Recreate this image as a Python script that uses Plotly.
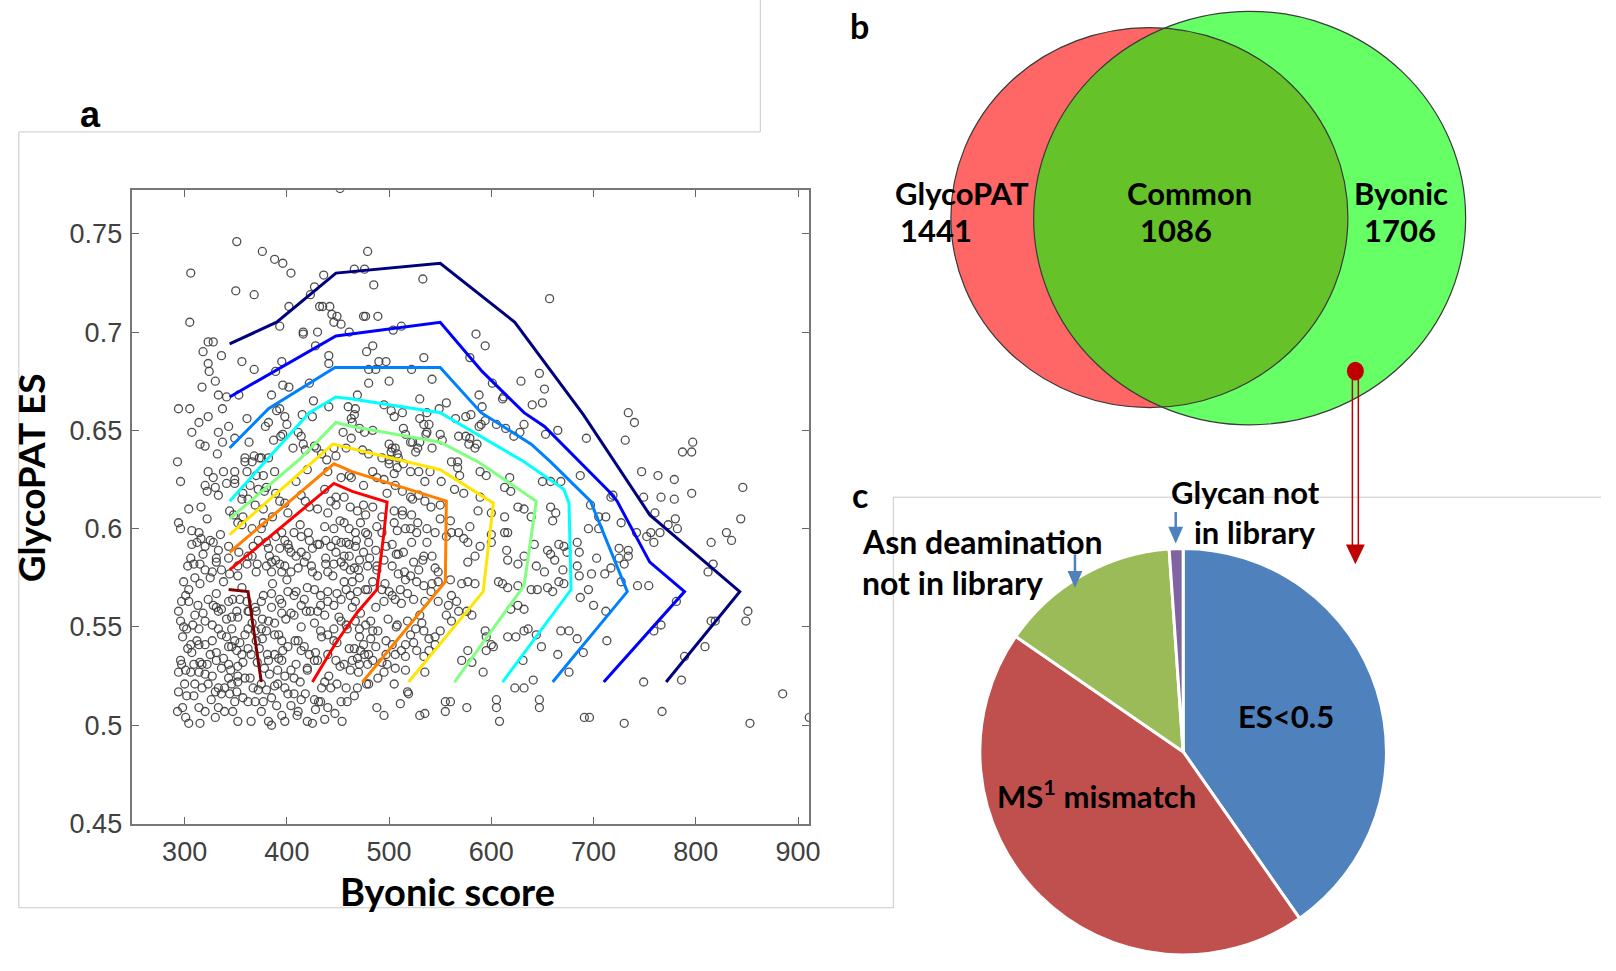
import plotly.graph_objects as go

# nominal canvas used to express layout positions as paper fractions
W, H = 1616, 971


def fx(px):
    return px / W


def fy(py):
    return 1 - py / H


# ---------------- panel a: Byonic score vs GlycoPAT ES ----------------
byonic_score = [
    # upper left
    452, 351, 376, 388, 396, 404, 306, 350, 368, 402,
    436, 427, 423, 432, 435, 442, 444, 449, 446, 453,
    461, 305, 393, 416, 416, 430, 428, 441, 441, 323,
    328, 318, 336, 323, 324, 356, 368, 395, 389, 330,
    317, 333, 341, 353, 396, 402, 422, 385, 294, 305,
    337, 323, 314, 307, 343, 333, 315, 320, 337, 349,
    361, 363, 332, 359, 368, 375, 382, 390, 393, 398,
    382, 379, 400, 396, 394, 387, 411, 414, 415, 425,
    426, 441, 460, 463, 455, 463, 406, 416, 418, 427,
    429, 446, 448, 458, 434, 439, 293,
    # upper middle
    479, 466, 476, 485, 533, 657, 475, 477, 489, 504,
    512, 585, 594, 478, 484, 490, 497, 534, 579, 480,
    487, 522, 500, 542, 480, 469, 629, 647, 652, 601,
    588, 612, 611, 530, 467, 466, 464, 495, 502, 505,
    513, 549, 556, 565, 575, 580, 591, 594, 588, 590,
    605, 614, 622, 628, 632, 640, 650, 653, 665, 530,
    537, 534, 539, 537, 536, 471, 476, 484, 514, 516,
    550, 552, 568, 575, 579, 578, 584, 586, 542, 500,
    503, 502, 506, 508, 509, 521, 523, 528, 530, 526,
    474, 480, 493, 500, 567,
    # upper right
    734, 740, 693, 731, 797, 796, 787,
    # lower left
    296, 323, 328, 338, 320, 330, 322, 349, 349, 361,
    370, 364, 372, 378, 388, 359, 366, 373, 356, 357,
    304, 377, 393, 398, 377, 375, 356, 357, 348, 414,
    422, 440, 453, 461, 443, 448, 440, 456, 462, 456,
    461, 294, 296, 314, 316, 325, 307, 320, 328, 333,
    331, 306, 309, 315, 320, 327, 299, 315, 325, 343,
    344, 352, 362, 367, 366, 380, 382, 383, 371, 370,
    380, 385, 385, 395, 398, 401, 393, 407, 414, 404,
    409, 414, 393, 398, 404, 422, 425, 430, 417, 424,
    425, 437, 438, 443, 438, 446, 453, 440, 445, 448,
    453, 458, 461, 456, 461, 456, 462, 466, 301, 304,
    310, 294, 323, 328, 331, 336, 343, 296, 299, 302,
    314, 320, 327, 333, 341, 346, 351, 354, 361, 362,
    370, 375, 385, 385, 393, 401, 407, 414, 419, 427,
    433, 440, 440, 446, 453, 458, 462, 464, 430, 437,
    395, 399, 404, 382, 388, 375, 362, 369, 359, 341,
    349, 346, 327, 320, 325, 306, 314, 307, 297, 294,
    301, 309, 315, 322, 314, 320, 331, 336, 343, 357,
    352, 359, 343, 346, 339, 310, 317, 323, 294, 302,
    330, 336, 351, 357, 349, 367, 375, 380, 369, 377,
    382, 388, 395, 378, 391, 398, 404, 407, 391, 398,
    401, 407, 388, 395, 401, 411, 414, 422, 427, 420,
    433, 440, 446, 453, 459, 440, 448, 456, 462, 437,
    443, 449, 458, 427, 433, 440, 293, 301, 304, 315,
    314, 320, 339, 333, 365, 375, 395, 398, 382, 385,
    404, 411, 420, 425, 414, 454, 453, 459, 351, 356,
    362, 365, 370, 373, 346, 466, 469,
    # lower middle
    500, 508, 514, 521, 529, 540, 535, 484, 488, 495,
    506, 513, 521, 529, 535, 550, 561, 567, 569, 564,
    573, 589, 595, 589, 587, 613, 619, 618, 626, 632,
    639, 650, 658, 668, 658, 663, 660, 613, 616, 613,
    600, 579, 469, 477, 484, 472, 467, 477, 488, 493,
    505, 513, 513, 522, 516, 521, 527, 537, 545, 550,
    560, 561, 568, 573, 577, 589, 584, 577, 600, 600,
    615, 616, 626, 632, 642, 644, 652, 655, 658, 662,
    666, 671, 674, 670, 671, 467, 475, 480, 487, 471,
    479, 488, 495, 503, 509, 514, 503, 509, 516, 521,
    524, 529, 534, 537, 542, 545, 548, 527, 534, 542,
    548, 464, 469, 477, 484, 493, 500, 506, 495, 511,
    518, 524, 535, 548, 558, 566, 561, 571, 577, 584,
    556, 561, 568, 576, 581, 607, 611, 616, 626, 619,
    626, 632, 639, 645, 655, 660, 666, 636, 644, 649,
    616, 624, 632, 594, 595, 600, 577, 571, 581, 592,
    668, 676, 665, 676, 631, 467, 471, 477, 482, 484,
    471, 475, 472, 480, 487, 464, 471, 479, 484, 497,
    503, 497, 508, 518, 526, 532, 534, 539, 545, 550,
    516, 524, 527, 539, 545, 506, 516, 534, 498, 506,
    516, 495, 505, 535, 469, 480, 518, 519, 488, 495,
    511, 530, 535, 555, 560, 555, 576, 605, 605, 608,
    623, 632, 641, 647, 647, 595, 602,
    # lower right
    747, 763, 779, 796, 846, 687, 717, 719, 749, 766,
    779, 697, 705, 712, 727, 760, 780, 773, 782, 844,
    695, 705, 742, 752, 759, 765, 756, 830, 835, 815,
    684, 686, 725, 734, 725, 734, 730, 703, 684, 686,
    698, 711, 717, 812, 817, 727, 743, 754, 687, 695,
    700, 712, 781, 851, 849, 815, 819, 766, 759, 684,
    690, 713, 809, 789, 749, 786, 885, 767, 691, 696,
    730, 853, 911,
    # dense core (overlapping circles, positions estimated)
    330, 352, 410, 437,
    298, 347, 390, 428, 447,
    309, 326, 344, 362, 385, 418, 431, 466,
    300, 333, 352, 372, 388, 413, 434, 478,
    306, 327, 345, 364, 383, 420, 441, 470, 489,
    296, 317, 338, 352, 371, 392, 409, 430, 452, 493,
    303, 331, 343, 381, 396, 417, 428, 461, 476, 512,
    298, 312, 336, 354, 376, 392, 408, 434, 449, 482, 521,
    308, 333, 366, 380, 414, 427, 446, 458, 489, 507,
    318, 352, 363, 376, 407, 423, 451, 472, 499, 530,
    297, 313, 347, 369, 395, 417, 433, 467, 487, 512,
    304, 331, 356, 377, 409, 420, 449, 479, 503, 541,
    310, 338, 352, 386, 400, 430, 456, 471, 496, 560,
    303, 336, 361, 395, 411, 438, 470, 488, 515,
    318, 331, 353, 389, 419, 448, 481, 507, 533,
    312, 343, 372, 402, 432, 468, 497, 522,
    307, 335, 366, 389, 421, 446, 479, 508, 556,
    322, 352, 386, 413, 452, 493, 528,
    316, 344, 369, 401, 430, 475, 505, 541,
    333, 362, 389, 418, 448, 498, 523,
    341, 380, 409, 437, 475, 551,
    349, 377, 420, 463, 505,
]

glycopat_es = [
    # upper left
    0.773, 0.746, 0.741, 0.737, 0.735, 0.730, 0.730, 0.721, 0.719, 0.713,
    0.729, 0.723, 0.719, 0.713, 0.713, 0.713, 0.709, 0.708, 0.705, 0.704,
    0.700, 0.705, 0.703, 0.700, 0.699, 0.700, 0.693, 0.688, 0.684, 0.695,
    0.695, 0.690, 0.688, 0.684, 0.680, 0.685, 0.681, 0.685, 0.680, 0.675,
    0.672, 0.668, 0.667, 0.668, 0.673, 0.672, 0.674, 0.668, 0.661, 0.661,
    0.661, 0.657, 0.654, 0.649, 0.652, 0.649, 0.643, 0.642, 0.644, 0.646,
    0.656, 0.644, 0.638, 0.636, 0.637, 0.636, 0.636, 0.660, 0.661, 0.657,
    0.654, 0.652, 0.653, 0.648, 0.647, 0.645, 0.649, 0.647, 0.658, 0.657,
    0.665, 0.662, 0.662, 0.656, 0.649, 0.646, 0.641, 0.643, 0.640, 0.642,
    0.641, 0.641, 0.637, 0.641, 0.638, 0.635, 0.634,
    # upper middle
    0.741, 0.732, 0.732, 0.724, 0.727, 0.717, 0.708, 0.708, 0.708, 0.701,
    0.703, 0.699, 0.693, 0.690, 0.693, 0.685, 0.685, 0.687, 0.687, 0.681,
    0.681, 0.681, 0.675, 0.676, 0.674, 0.668, 0.675, 0.679, 0.671, 0.674,
    0.668, 0.667, 0.666, 0.666, 0.661, 0.658, 0.654, 0.663, 0.660, 0.657,
    0.659, 0.661, 0.664, 0.656, 0.657, 0.658, 0.662, 0.655, 0.652, 0.653,
    0.653, 0.651, 0.647, 0.649, 0.653, 0.663, 0.664, 0.648, 0.650, 0.656,
    0.659, 0.653, 0.653, 0.649, 0.648, 0.651, 0.649, 0.650, 0.651, 0.648,
    0.648, 0.645, 0.647, 0.647, 0.646, 0.643, 0.641, 0.643, 0.641, 0.643,
    0.641, 0.639, 0.641, 0.638, 0.636, 0.644, 0.644, 0.641, 0.644, 0.639,
    0.640, 0.638, 0.636, 0.635, 0.634,
    # upper right
    0.659, 0.654, 0.646, 0.645, 0.644, 0.639, 0.639,
    # lower left
    0.624, 0.629, 0.626, 0.629, 0.622, 0.621, 0.619, 0.625, 0.623, 0.629,
    0.627, 0.622, 0.620, 0.619, 0.629, 0.634, 0.634, 0.636, 0.615, 0.618,
    0.610, 0.610, 0.614, 0.613, 0.603, 0.600, 0.602, 0.606, 0.607, 0.617,
    0.611, 0.629, 0.626, 0.627, 0.614, 0.612, 0.608, 0.616, 0.611, 0.603,
    0.600, 0.603, 0.600, 0.598, 0.595, 0.594, 0.592, 0.591, 0.593, 0.589,
    0.583, 0.585, 0.582, 0.582, 0.579, 0.578, 0.573, 0.572, 0.575, 0.585,
    0.577, 0.581, 0.586, 0.591, 0.586, 0.593, 0.590, 0.586, 0.582, 0.578,
    0.581, 0.583, 0.578, 0.598, 0.594, 0.592, 0.590, 0.598, 0.596, 0.588,
    0.586, 0.588, 0.582, 0.581, 0.578, 0.594, 0.590, 0.592, 0.583, 0.581,
    0.578, 0.601, 0.594, 0.591, 0.585, 0.582, 0.583, 0.578, 0.576, 0.594,
    0.593, 0.593, 0.592, 0.586, 0.586, 0.581, 0.579, 0.580, 0.566, 0.563,
    0.556, 0.558, 0.564, 0.561, 0.560, 0.559, 0.563, 0.553, 0.550, 0.549,
    0.549, 0.553, 0.551, 0.558, 0.554, 0.555, 0.558, 0.564, 0.563, 0.558,
    0.558, 0.563, 0.560, 0.567, 0.564, 0.568, 0.566, 0.561, 0.558, 0.569,
    0.566, 0.568, 0.563, 0.561, 0.564, 0.569, 0.566, 0.560, 0.558, 0.556,
    0.557, 0.554, 0.557, 0.553, 0.552, 0.549, 0.549, 0.548, 0.546, 0.545,
    0.543, 0.540, 0.543, 0.541, 0.536, 0.541, 0.541, 0.537, 0.531, 0.527,
    0.528, 0.531, 0.532, 0.531, 0.527, 0.526, 0.533, 0.529, 0.531, 0.532,
    0.525, 0.524, 0.524, 0.521, 0.519, 0.521, 0.519, 0.521, 0.517, 0.515,
    0.517, 0.516, 0.517, 0.514, 0.512, 0.519, 0.521, 0.518, 0.512, 0.512,
    0.533, 0.536, 0.533, 0.529, 0.528, 0.525, 0.528, 0.524, 0.521, 0.519,
    0.516, 0.516, 0.546, 0.543, 0.540, 0.543, 0.538, 0.536, 0.533, 0.529,
    0.548, 0.546, 0.543, 0.553, 0.549, 0.536, 0.533, 0.531, 0.528, 0.522,
    0.519, 0.521, 0.519, 0.513, 0.512, 0.509, 0.507, 0.504, 0.501, 0.501,
    0.509, 0.507, 0.507, 0.509, 0.502, 0.507, 0.505, 0.502, 0.502, 0.500,
    0.510, 0.507, 0.502, 0.501, 0.513, 0.502, 0.512, 0.512, 0.538, 0.536,
    0.539, 0.536, 0.543, 0.539, 0.549, 0.539, 0.534,
    # lower middle
    0.633, 0.631, 0.633, 0.629, 0.629, 0.629, 0.624, 0.629, 0.626, 0.625,
    0.622, 0.619, 0.616, 0.617, 0.614, 0.612, 0.634, 0.631, 0.627, 0.620,
    0.618, 0.629, 0.627, 0.616, 0.609, 0.621, 0.619, 0.626, 0.611, 0.610,
    0.606, 0.624, 0.624, 0.624, 0.611, 0.608, 0.604, 0.606, 0.598, 0.598,
    0.608, 0.601, 0.609, 0.607, 0.611, 0.603, 0.598, 0.598, 0.601, 0.598,
    0.603, 0.609, 0.607, 0.607, 0.600, 0.600, 0.598, 0.600, 0.598, 0.605,
    0.604, 0.598, 0.598, 0.595, 0.593, 0.591, 0.586, 0.583, 0.597, 0.593,
    0.589, 0.584, 0.582, 0.586, 0.592, 0.581, 0.578, 0.589, 0.587, 0.584,
    0.592, 0.591, 0.588, 0.579, 0.572, 0.591, 0.588, 0.593, 0.589, 0.584,
    0.581, 0.579, 0.584, 0.592, 0.587, 0.588, 0.581, 0.577, 0.574, 0.576,
    0.583, 0.579, 0.586, 0.593, 0.586, 0.580, 0.578, 0.573, 0.571, 0.572,
    0.573, 0.573, 0.568, 0.569, 0.573, 0.569, 0.568, 0.564, 0.563, 0.569,
    0.567, 0.564, 0.563, 0.563, 0.561, 0.563, 0.566, 0.572, 0.573, 0.572,
    0.556, 0.553, 0.558, 0.558, 0.556, 0.573, 0.572, 0.570, 0.571, 0.559,
    0.561, 0.559, 0.569, 0.569, 0.570, 0.568, 0.573, 0.549, 0.546, 0.540,
    0.545, 0.545, 0.548, 0.548, 0.545, 0.541, 0.538, 0.533, 0.532, 0.527,
    0.548, 0.548, 0.536, 0.527, 0.533, 0.553, 0.549, 0.551, 0.553, 0.548,
    0.545, 0.541, 0.538, 0.536, 0.540, 0.533, 0.531, 0.531, 0.533, 0.543,
    0.541, 0.536, 0.551, 0.553, 0.549, 0.552, 0.548, 0.544, 0.545, 0.548,
    0.541, 0.542, 0.538, 0.538, 0.541, 0.536, 0.535, 0.535, 0.531, 0.529,
    0.528, 0.527, 0.521, 0.527, 0.519, 0.521, 0.517, 0.516, 0.509, 0.505,
    0.511, 0.505, 0.506, 0.512, 0.512, 0.507, 0.509, 0.513, 0.509, 0.502,
    0.519, 0.519, 0.523, 0.513, 0.509, 0.538, 0.540,
    # lower right
    0.629, 0.627, 0.625, 0.618, 0.621, 0.627, 0.616, 0.617, 0.616, 0.616,
    0.615, 0.612, 0.606, 0.606, 0.603, 0.608, 0.605, 0.602, 0.600, 0.605,
    0.600, 0.600, 0.598, 0.596, 0.593, 0.598, 0.598, 0.598, 0.594, 0.593,
    0.593, 0.588, 0.590, 0.589, 0.585, 0.586, 0.582, 0.585, 0.581, 0.576,
    0.577, 0.577, 0.580, 0.578, 0.582, 0.573, 0.571, 0.571, 0.565, 0.569,
    0.561, 0.558, 0.563, 0.558, 0.553, 0.553, 0.553, 0.551, 0.548, 0.544,
    0.537, 0.543, 0.540, 0.535, 0.522, 0.523, 0.516, 0.507, 0.504, 0.504,
    0.501, 0.501, 0.504,
    # dense core (overlapping circles, positions estimated)
    0.504, 0.502, 0.505, 0.503,
    0.509, 0.507, 0.510, 0.508, 0.506,
    0.515, 0.513, 0.516, 0.512, 0.514, 0.516, 0.512, 0.515,
    0.521, 0.519, 0.522, 0.518, 0.520, 0.522, 0.519, 0.521,
    0.527, 0.525, 0.528, 0.524, 0.526, 0.528, 0.525, 0.527, 0.524,
    0.533, 0.531, 0.534, 0.530, 0.532, 0.534, 0.531, 0.533, 0.530, 0.532,
    0.539, 0.537, 0.540, 0.536, 0.538, 0.540, 0.537, 0.539, 0.536, 0.538,
    0.545, 0.543, 0.546, 0.542, 0.544, 0.546, 0.543, 0.545, 0.542, 0.544, 0.546,
    0.551, 0.549, 0.552, 0.548, 0.550, 0.552, 0.549, 0.551, 0.548, 0.550,
    0.557, 0.555, 0.558, 0.554, 0.556, 0.558, 0.555, 0.557, 0.554, 0.556,
    0.563, 0.561, 0.564, 0.560, 0.562, 0.564, 0.561, 0.563, 0.560, 0.562,
    0.569, 0.567, 0.570, 0.566, 0.568, 0.570, 0.567, 0.569, 0.566, 0.568,
    0.575, 0.573, 0.576, 0.572, 0.574, 0.576, 0.573, 0.575, 0.572, 0.574,
    0.581, 0.579, 0.582, 0.578, 0.580, 0.582, 0.579, 0.581, 0.578,
    0.587, 0.585, 0.588, 0.584, 0.586, 0.588, 0.585, 0.587, 0.584,
    0.593, 0.591, 0.594, 0.590, 0.592, 0.594, 0.591, 0.593,
    0.599, 0.597, 0.600, 0.596, 0.598, 0.600, 0.597, 0.599, 0.596,
    0.605, 0.603, 0.606, 0.602, 0.604, 0.606, 0.603,
    0.611, 0.609, 0.612, 0.608, 0.610, 0.612, 0.609, 0.611,
    0.617, 0.615, 0.618, 0.614, 0.616, 0.618, 0.615,
    0.623, 0.621, 0.624, 0.620, 0.622, 0.624,
    0.629, 0.627, 0.630, 0.626, 0.628,
]

# density contour levels, outermost first
contour_x = [
    [344, 390, 448, 550, 623, 690, 755, 843, 771],
    [344, 448, 550, 591, 632, 652, 715, 723, 755, 789, 710],
    [344, 382, 447, 550, 590, 639, 658, 697, 733, 660],
    [344, 382, 422, 448, 464, 550, 600, 632, 671, 676, 678, 611],
    [344, 414, 448, 464, 550, 587, 644, 632, 564],
    [344, 445, 550, 602, 592, 519],
    [344, 446, 464, 556, 555, 474],
    [344, 446, 464, 498, 495, 488, 469, 448, 425],
    [343, 362, 375],
]
contour_y = [
    [0.694, 0.705, 0.730, 0.735, 0.705, 0.658, 0.607, 0.568, 0.522],
    [0.667, 0.698, 0.705, 0.680, 0.659, 0.652, 0.619, 0.614, 0.583, 0.568, 0.522],
    [0.641, 0.661, 0.682, 0.682, 0.659, 0.643, 0.634, 0.614, 0.568, 0.522],
    [0.614, 0.636, 0.659, 0.667, 0.666, 0.659, 0.644, 0.634, 0.620, 0.613, 0.569, 0.522],
    [0.605, 0.636, 0.654, 0.652, 0.644, 0.634, 0.614, 0.571, 0.522],
    [0.597, 0.643, 0.630, 0.613, 0.568, 0.522],
    [0.588, 0.633, 0.629, 0.614, 0.573, 0.522],
    [0.579, 0.623, 0.619, 0.6135, 0.598, 0.569, 0.5575, 0.542, 0.522],
    [0.569, 0.568, 0.522],
]
contour_colors = ["#00007F", "#0000FF", "#0080FF", "#00FFFF", "#80FF80",
                  "#FFE500", "#FF8000", "#FF0000", "#7F0000"]

x_ticks = [300, 400, 500, 600, 700, 800, 900]
y_ticks = [0.45, 0.5, 0.55, 0.6, 0.65, 0.7, 0.75]
y_tick_text = ["0.45", "0.5", "0.55", "0.6", "0.65", "0.7", "0.75"]

# ---------------- panel b: overlap counts ----------------
venn_labels = ["GlycoPAT", "Common", "Byonic"]
venn_counts = [1441, 1086, 1706]

# ---------------- panel c: Byonic-only breakdown ----------------
slice_labels = ["ES<0.5", "MS<sup>1</sup> mismatch",
                "Asn deamination not in library", "Glycan not in library"]
slice_values = [40.3, 44.3, 14.3, 1.1]
slice_colors = ["#4F81BD", "#C0504D", "#9BBB59", "#8064A2"]

fig = go.Figure()

fig.add_trace(go.Scatter(
    x=byonic_score, y=glycopat_es, mode="markers",
    marker=dict(symbol="circle-open", size=8, color="rgba(60,60,60,0.9)",
                line=dict(width=1.3)),
    showlegend=False, hoverinfo="x+y"))

for cx, cy, col in zip(contour_x, contour_y, contour_colors):
    fig.add_trace(go.Scatter(x=cx, y=cy, mode="lines",
                             line=dict(color=col, width=3),
                             showlegend=False, hoverinfo="skip"))

fig.add_trace(go.Pie(
    labels=slice_labels, values=slice_values, sort=False,
    direction="clockwise", rotation=0, textinfo="none",
    marker=dict(colors=slice_colors, line=dict(color="white", width=3)),
    domain=dict(x=[fx(985.5), fx(1398.5)], y=[fy(970), fy(557)]),
    showlegend=False))

axis_font = dict(family="Liberation Sans, Arial", size=27, color="#404040")
fig.update_layout(
    autosize=True, margin=dict(l=0, r=0, t=0, b=0),
    paper_bgcolor="white", plot_bgcolor="white",
    xaxis=dict(domain=[fx(133.3), fx(815)], range=[248.8, 910.7],
               tickvals=x_ticks, ticks="inside", ticklen=7, tickwidth=1,
               tickcolor="#666", showline=True, linecolor="#777",
               linewidth=1.5, mirror="allticks", showgrid=False,
               zeroline=False, tickfont=axis_font, ticklabelstandoff=3),
    yaxis=dict(domain=[fy(836.5), fy(193.3)], range=[0.45, 0.7721],
               tickvals=y_ticks, ticktext=y_tick_text, ticks="inside",
               ticklen=7, tickwidth=1, tickcolor="#666", showline=True,
               linecolor="#777", linewidth=1.5, mirror="allticks",
               showgrid=False, zeroline=False, tickfont=axis_font,
               ticklabelstandoff=3),
)

shapes = []
frame = dict(color="#C8C8C8", width=1)


def seg(x0, y0, x1, y1, line):
    return dict(type="line", xref="paper", yref="paper",
                x0=fx(x0), y0=fy(y0), x1=fx(x1), y1=fy(y1), line=line)


# panel frames
shapes += [
    seg(766, 0, 766, 134, frame),
    seg(19, 134, 766, 134, frame),
    seg(19, 134, 19, 922, frame),
    seg(19, 922, 900, 922, frame),
    seg(900, 505, 900, 922, frame),
    seg(900, 505, 1613, 505, frame),
]

# Venn ellipses: area proportional to the set sizes
red_c, red_rx, red_ry = (1158, 221), 200, 193
scale = (venn_counts[2] / venn_counts[0]) ** 0.5
grn_c, grn_rx, grn_ry = (1259, 221.5), red_rx * scale, red_ry * scale


def ellipse(c, rx, ry, **kw):
    return dict(type="circle", xref="paper", yref="paper",
                x0=fx(c[0] - rx), x1=fx(c[0] + rx),
                y0=fy(c[1] + ry), y1=fy(c[1] - ry), **kw)


shapes += [
    ellipse(red_c, red_rx, red_ry, fillcolor="rgb(255,0,0)", opacity=0.6,
            line=dict(width=0)),
    ellipse(grn_c, grn_rx, grn_ry, fillcolor="rgb(0,255,0)", opacity=0.6,
            line=dict(width=0)),
    ellipse(red_c, red_rx, red_ry, line=dict(color="#3a3a3a", width=1.2)),
    ellipse(grn_c, grn_rx, grn_ry, line=dict(color="#3a3a3a", width=1.2)),
]

# red pointer from the Byonic-only region to the pie
dark_red = "#C00000"
shapes += [
    ellipse((1365.5, 377), 8.5, 9.5, fillcolor=dark_red, line=dict(width=0)),
    seg(1362.5, 385, 1362.5, 556, dict(color=dark_red, width=1.5)),
    seg(1368.5, 385, 1368.5, 556, dict(color=dark_red, width=1.5)),
]


def tri(xc, ytop, half, ytip, color):
    path = (f"M {fx(xc - half)} {fy(ytop)} L {fx(xc + half)} {fy(ytop)} "
            f"L {fx(xc)} {fy(ytip)} Z")
    return dict(type="path", xref="paper", yref="paper", path=path,
                fillcolor=color, line=dict(width=0))


shapes.append(tri(1365.5, 553, 9.5, 573, dark_red))

# small blue pointers for the thin slices
blue = "#4F81BD"
shapes += [
    seg(1184.5, 520, 1184.5, 540, dict(color=blue, width=2.5)),
    tri(1184.5, 535, 7.5, 552, blue),
    seg(1083, 563, 1083, 585, dict(color=blue, width=2.5)),
    tri(1083, 580, 7.5, 597, blue),
]

fig.update_layout(shapes=shapes)


def label(text, x, y, size, xanchor="center", angle=0, family="Lato"):
    fig.add_annotation(text=text, x=fx(x), y=fy(y), xref="paper",
                       yref="paper", xanchor=xanchor, yanchor="middle",
                       showarrow=False, textangle=angle,
                       font=dict(family=family, size=size, color="black",
                                 weight="bold"))


label("Byonic score", 451, 905, 38)
label("GlycoPAT ES", 31, 485, 37, angle=-90)
label("a", 91, 116, 36, family="Liberation Sans")
label("b", 866, 26, 34)
label("c", 866, 502, 34)

venn_pos = [(969, 196, 943, 234), (1198, 196, 1185, 234), (1411, 196, 1410, 234)]
for name, count, (tx, ty, cx_, cy_) in zip(venn_labels, venn_counts, venn_pos):
    label(name, tx, ty, 31)
    label(str(count), cx_, cy_, 31)

label(slice_labels[0], 1296, 727, 31)
label(slice_labels[1], 1104.5, 807, 31)
label("Asn deamination", 866, 550, 32, xanchor="left")
label("not in library", 866, 592, 32, xanchor="left")
label("Glycan not", 1178, 500, 31, xanchor="left")
label("in library", 1201, 540, 31, xanchor="left")

# the figure fills the whole window; no page margin or scrollbars
page_css = ("document.documentElement.style.margin='0';"
            "document.documentElement.style.overflow='hidden';"
            "document.body.style.margin='0';"
            "document.body.style.overflow='hidden';")
fig.write_html("out.html", default_width="100vw", default_height="100vh",
               post_script=page_css)
